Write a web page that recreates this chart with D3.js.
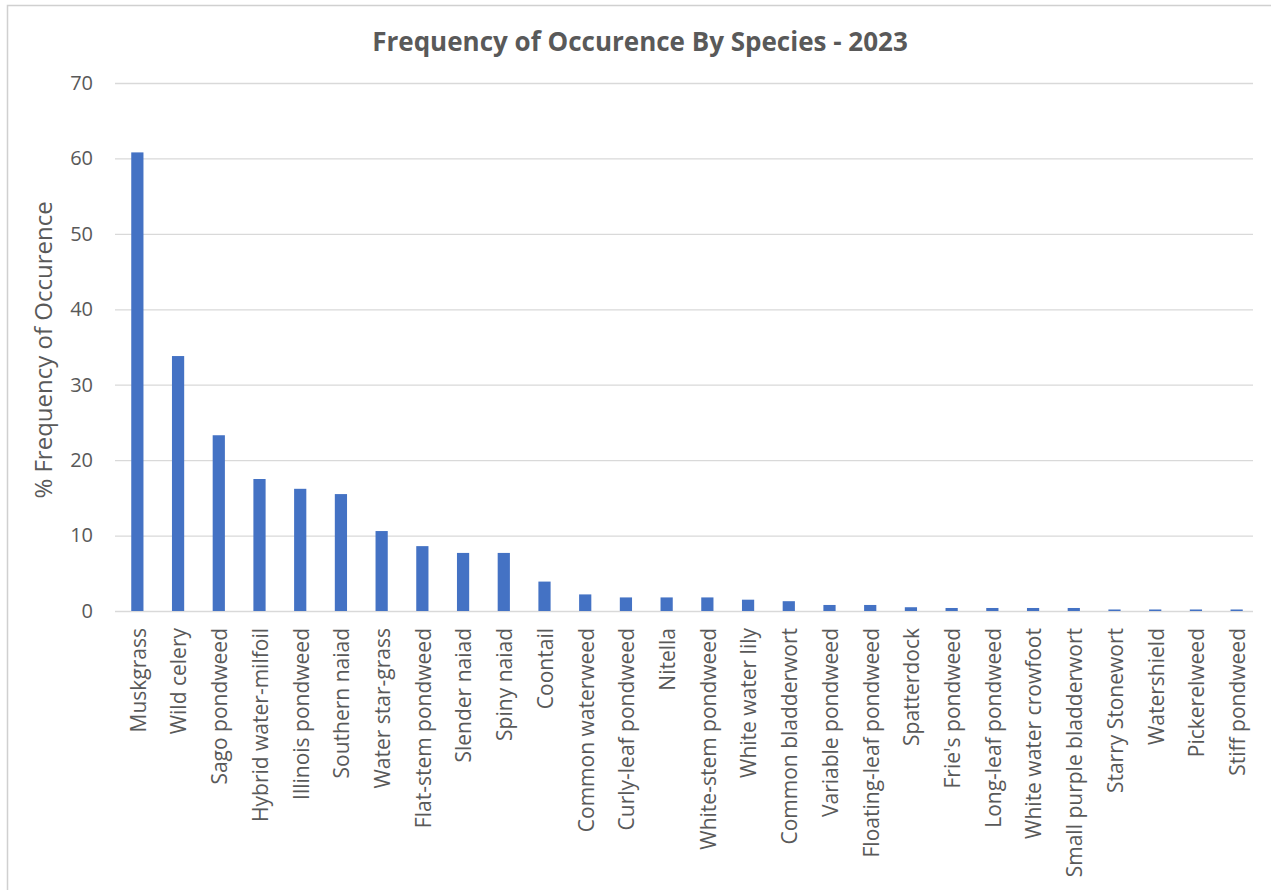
<!DOCTYPE html>
<html>
<head>
<meta charset="utf-8">
<script src="https://cdn.jsdelivr.net/npm/d3@7"></script>
<style>
  html, body { margin: 0; padding: 0; background: #fff; }
  svg { display: block; }
  text { font-family: "Open Sans", "Noto Sans", sans-serif; fill: #595959; }
</style>
</head>
<body>
<svg id="chart" width="1271" height="890"></svg>
<script>
// Species surveyed and their % frequency of occurrence (2023)
const species = [
  "Muskgrass", "Wild celery", "Sago pondweed", "Hybrid water-milfoil",
  "Illinois pondweed", "Southern naiad", "Water star-grass", "Flat-stem pondweed",
  "Slender naiad", "Spiny naiad", "Coontail", "Common waterweed",
  "Curly-leaf pondweed", "Nitella", "White-stem pondweed", "White water lily",
  "Common bladderwort", "Variable pondweed", "Floating-leaf pondweed", "Spatterdock",
  "Frie's pondweed", "Long-leaf pondweed", "White water crowfoot", "Small purple bladderwort",
  "Starry Stonewort", "Watershield", "Pickerelweed", "Stiff pondweed"
];
const frequency = [
  60.8, 33.8, 23.3, 17.5,
  16.2, 15.5, 10.6, 8.6,
  7.7, 7.7, 3.9, 2.2,
  1.8, 1.8, 1.8, 1.5,
  1.3, 0.8, 0.8, 0.5,
  0.4, 0.4, 0.4, 0.4,
  0.2, 0.2, 0.2, 0.2
];
const yTicks = [0, 10, 20, 30, 40, 50, 60, 70];
const chartTitle = "Frequency of Occurence By Species - 2023";
const yTitle = "% Frequency of Occurence";

const data = species.map((name, i) => ({ name, value: frequency[i] }));

const svg = d3.select("#chart");
const plot = { left: 117, right: 1257, top: 83, bottom: 611 };

// chart frame
svg.append("rect")
  .attr("x", 7.5).attr("y", 5.5)
  .attr("width", 1280).attr("height", 900)
  .attr("fill", "#fff")
  .attr("stroke", "#d0d0d0").attr("stroke-width", 1.5);

const x = d3.scaleBand()
  .domain(species)
  .range([plot.left, plot.right])
  .paddingInner(0.7)
  .paddingOuter(0.35);

const y = d3.scaleLinear()
  .domain([0, 70])
  .range([plot.bottom, plot.top]);

// horizontal gridlines with value labels
const yAxis = d3.axisLeft(y)
  .tickValues(yTicks)
  .tickSize(-(plot.right - plot.left - 2))
  .tickPadding(22);

const gy = svg.append("g")
  .attr("transform", `translate(${plot.left - 2},0)`)
  .call(yAxis);
gy.select(".domain").remove();
gy.selectAll(".tick line").attr("stroke", "#d9d9d9").attr("stroke-width", 1.3);
gy.selectAll(".tick text")
  .attr("font-size", 20)
  .attr("fill", "#595959")
  .style("font-family", '"Open Sans", sans-serif');

// bars
svg.append("g")
  .selectAll("rect")
  .data(data)
  .join("rect")
  .attr("x", d => x(d.name))
  .attr("width", x.bandwidth())
  .attr("y", d => y(d.value))
  .attr("height", d => y(0) - y(d.value))
  .attr("fill", "#4472C4");

// category labels, rotated
const xAxis = d3.axisBottom(x).tickSize(0).tickPadding(0);
const gx = svg.append("g")
  .attr("transform", `translate(0,${plot.bottom})`)
  .call(xAxis);
gx.select(".domain").remove();
gx.selectAll(".tick text")
  .attr("font-size", 21)
  .attr("fill", "#595959")
  .style("font-family", '"Open Sans", sans-serif')
  .attr("text-anchor", "end")
  .attr("transform", "rotate(-90)")
  .attr("x", -17)
  .attr("y", 1)
  .attr("dy", "0.35em");

// title
svg.append("text")
  .attr("x", 640).attr("y", 51)
  .attr("text-anchor", "middle")
  .attr("font-size", 26)
  .attr("font-weight", "bold")
  .attr("fill", "#595959")
  .text(chartTitle);

// y-axis title
svg.append("text")
  .attr("transform", `translate(52,${(plot.top + plot.bottom) / 2 + 3}) rotate(-90)`)
  .attr("text-anchor", "middle")
  .attr("font-size", 24)
  .attr("fill", "#595959")
  .text(yTitle);
</script>
</body>
</html>
